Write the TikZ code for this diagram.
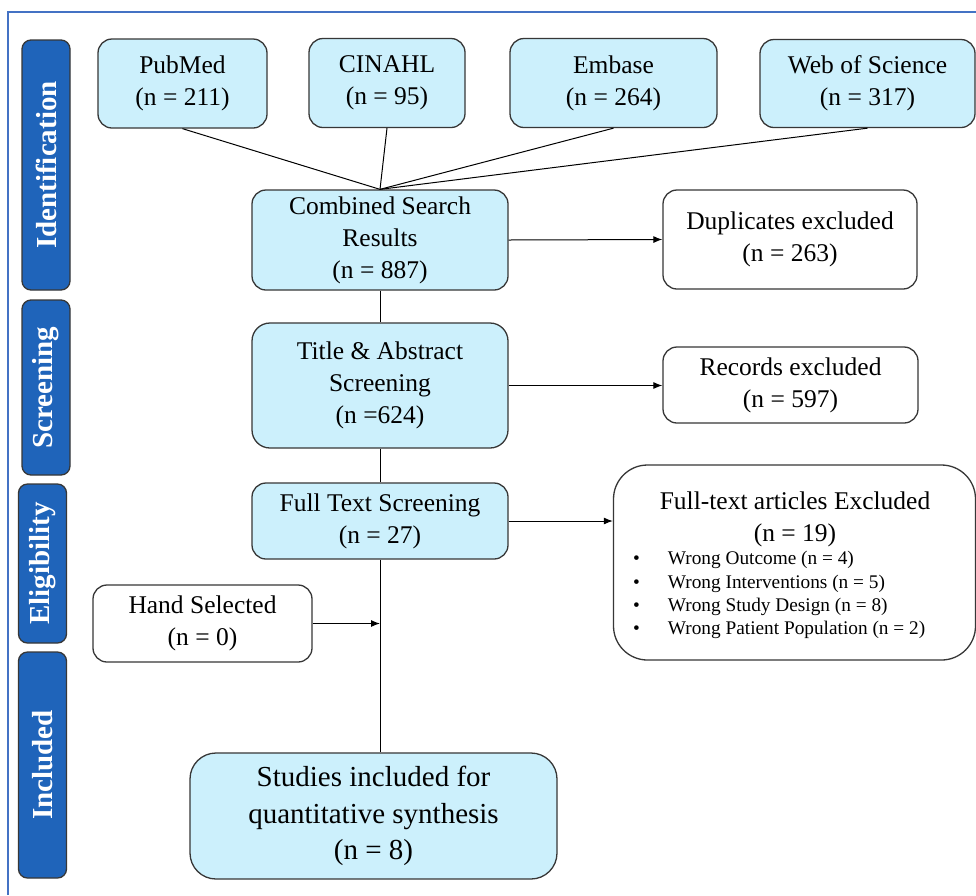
\documentclass[tikz,border=0pt]{standalone}
\usepackage{fontspec}
\setmainfont{Liberation Serif}
\usetikzlibrary{arrows.meta}
\definecolor{boxfill}{RGB}{204,240,252}
\definecolor{sidefill}{RGB}{31,100,186}
\definecolor{framecol}{RGB}{68,114,196}
\definecolor{edgecol}{RGB}{55,55,55}
\tikzset{
  box/.style={draw=edgecol, line width=1.3pt, rounded corners=14pt, fill=boxfill, align=center,
    font=\fontsize{25.5}{32}\selectfont, inner sep=0pt},
  wbox/.style={box, fill=white},
  side/.style={draw=edgecol, line width=1.3pt, rounded corners=9pt, fill=sidefill, rotate=90,
    text=white, font=\fontsize{29}{34}\selectfont\bfseries, inner sep=0pt, minimum height=48pt},
  conn/.style={line width=1pt, black},
  arr/.style={conn, -{Latex[length=9pt,width=7pt]}}
}
\begin{document}
\begin{tikzpicture}[x=1pt,y=-1pt]
\useasboundingbox (0,0) rectangle (976,895);
\fill[white] (0,0) rectangle (976,895);
\draw[framecol, line width=1.6pt] (8,895) -- (8,12) -- (976,12);

% side labels
\node[side, minimum width=250pt] (sid) at (46,165) {Identification};
\node[side, minimum width=175pt] (sscr) at (46,387.5) {Screening};
\node[side, minimum width=159pt] (selig) at (42.5,563.5) {Eligibility};
\node[side, minimum width=226pt] (sinc) at (42.5,765) {Included};

% sources
\node[box, minimum width=169pt, minimum height=89pt] (pub) at (182.5,83.5) {PubMed\\(n = 211)};
\node[box, minimum width=156pt, minimum height=89pt] (cin) at (387,83) {CINAHL\\(n = 95)};
\node[box, minimum width=207pt, minimum height=89pt] (emb) at (613.5,83) {Embase\\(n = 264)};
\node[box, minimum width=215pt, minimum height=88pt] (wos) at (867.5,83.5) {Web of Science\\(n = 317)};

% main column
\node[box, minimum width=256pt, minimum height=100pt] (comb) at (380,240) {Combined Search\\Results\\(n = 887)};
\node[box, minimum width=256pt, minimum height=125pt, rounded corners=18pt] (tas) at (380,385.5) {Title \& Abstract\\Screening\\(n =624)};
\node[box, minimum width=256pt, minimum height=76pt] (fts) at (380,521) {Full Text Screening\\(n = 27)};
\node[box, minimum width=367pt, minimum height=126pt, rounded corners=26pt,
  font=\fontsize{29}{36.5}\selectfont] (stu) at (373.5,816) {Studies included for\\quantitative synthesis\\(n = 8)};

% exclusions
\node[wbox, minimum width=254pt, minimum height=99pt] (dup) at (790,239.5) {Duplicates excluded\\(n = 263)};
\node[wbox, minimum width=255pt, minimum height=76pt] (rec) at (790.5,385) {Records excluded\\(n = 597)};
\node[wbox, minimum width=362pt, minimum height=195pt, rounded corners=34pt] (fte) at (794.5,562.5) {};
\node[align=center, font=\fontsize{25.5}{32}\selectfont, inner sep=0pt] (ftetitle) at (795,519) {Full-text articles Excluded\\(n = 19)};
\node[anchor=west, inner sep=0pt, font=\fontsize{19.3}{23.3}\selectfont] (ftelist) at (633,595)
  {\begin{tabular}{@{}l@{\hspace{28pt}}l@{}}
  \textbullet & Wrong Outcome (n = 4)\\
  \textbullet & Wrong Interventions (n = 5)\\
  \textbullet & Wrong Study Design (n = 8)\\
  \textbullet & Wrong Patient Population (n = 2)
  \end{tabular}};
\node[wbox, minimum width=219pt, minimum height=77pt] (hand) at (202.5,623.5) {Hand Selected\\(n = 0)};

% connectors
\coordinate (merge) at (comb.north);
\draw[conn] (pub.south) -- (merge);
\draw[conn] (cin.south) -- (merge);
\draw[conn] (emb.south) -- (merge);
\draw[conn] (wos.south) -- (merge);
\draw[conn] (comb.south) -- (tas.north);
\draw[conn] (tas.south) -- (fts.north);
\draw[conn] (fts.south) -- (fts.south |- stu.north);
\draw[arr] (comb.east) -- (dup.west);
\draw[arr] (tas.east) -- (tas.east -| rec.west);
\draw[arr] (fts.east) -- (fts.east -| fte.west);
\draw[arr] (hand.east) -- (hand.east -| fts.south);
\end{tikzpicture}
\end{document}
